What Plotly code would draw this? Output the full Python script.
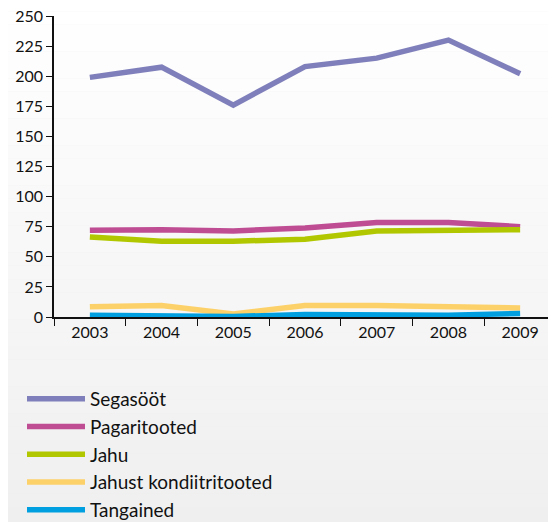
import plotly.graph_objects as go

years = ["2003", "2004", "2005", "2006", "2007", "2008", "2009"]
segasoot = [199, 207.5, 176, 208, 215, 230, 202]
pagaritooted = [72, 72.5, 71.5, 74, 78.5, 78.5, 75]
jahu = [66.5, 63, 63, 64.5, 71.5, 72.5, 72.5]
jahust = [8.5, 9.5, 2.5, 9.5, 9.5, 9, 7.5]
tangained = [1.5, 1.5, 0.5, 2, 2, 1.5, 3]

series = [
    ("Segasööt", segasoot, "#7f7fbb"),
    ("Pagaritooted", pagaritooted, "#bf4d93"),
    ("Jahu", jahu, "#b1c800"),
    ("Jahust kondiitritooted", jahust, "#fdd16a"),
    ("Tangained", tangained, "#00a0e0"),
]

fig = go.Figure()
for name, vals, col in series:
    fig.add_trace(go.Scatter(x=years, y=vals, name=name, mode="lines",
                             line=dict(color=col, width=5.5)))

W, H = 549, 515

# background gradient (white at top to light grey at bottom)
n = 40
top, bot = 1.06, -0.72
shapes = []
for i in range(n):
    t = i / (n - 1)
    g = int(round(255 - t * 16))
    shapes.append(dict(type="rect", xref="paper", yref="paper",
                       x0=-0.2, x1=1.2, y0=top - (i + 1) * (top - bot) / n,
                       y1=top - i * (top - bot) / n,
                       fillcolor=f"rgb({g},{g},{g})", line=dict(width=0), layer="below"))

font = "Lato, 'Open Sans', sans-serif"
fig.update_layout(
    width=W, height=H,
    margin=dict(l=46, r=1, t=8, b=206, autoexpand=False),
    paper_bgcolor="rgb(239,239,239)", plot_bgcolor="rgba(0,0,0,0)",
    shapes=shapes,
    font=dict(family=font, size=16, color="#111"),
    showlegend=True,
    legend=dict(xref="container", yref="container", x=14 / W, y=1 - 372 / H,
                xanchor="left", yanchor="top",
                bgcolor="rgba(0,0,0,0)", font=dict(size=19, family=font),
                tracegroupgap=0, itemwidth=58),
    xaxis=dict(type="category", tickson="boundaries", ticks="outside", ticklen=7,
               tickcolor="#111", showline=True, linecolor="#111", linewidth=1.5,
               showgrid=False, range=[-0.5, 6.5], automargin=False, tickangle=0,
               ticklabeloverflow="allow"),
    yaxis=dict(range=[0, 250], dtick=25, ticks="outside", ticklen=6, tickcolor="#111",
               showline=True, linecolor="#111", linewidth=1.5, showgrid=False,
               zeroline=False, automargin=False, ticklabeloverflow="allow"),
)
fig.write_html("out.html")
